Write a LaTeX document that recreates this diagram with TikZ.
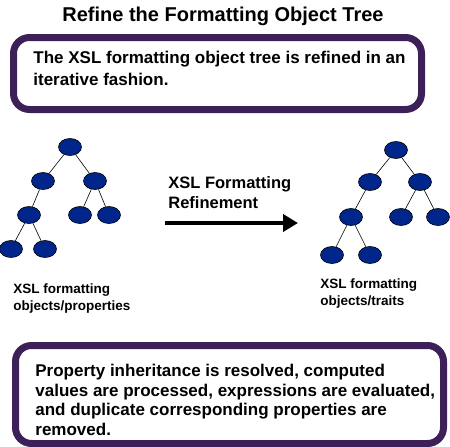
\documentclass[tikz,border=0pt]{standalone}
\usepackage{fontspec}
\setmainfont{Liberation Sans}
\usepackage{tikz}
\usetikzlibrary{arrows,arrows.meta,shapes}

\definecolor{boxpurple}{RGB}{62,32,88}
\definecolor{nodeblue}{RGB}{0,38,140}

\begin{document}
\begin{tikzpicture}[x=1pt,y=-1pt,thick]
  \tikzstyle{fo}=[ellipse,fill=nodeblue,draw=black,line width=0.6pt,minimum width=23pt,minimum height=17pt,inner sep=0pt]
  \tikzstyle{msgbox}=[draw=boxpurple,line width=7pt,rounded corners=16pt,fill=white]
  \tikzstyle{msgtext}=[anchor=base west,align=left,inner sep=0pt,font=\bfseries\fontsize{17}{22}\selectfont]
  \tikzstyle{caption}=[anchor=base west,align=left,inner sep=0pt,font=\bfseries\fontsize{13.5}{17}\selectfont]
  \tikzstyle{link}=[draw=black,line width=0.6pt]

  \useasboundingbox (0,0) rectangle (450,447);

  \node[font=\bfseries\fontsize{20}{22}\selectfont] at (223,16) (title) {Refine the Formatting Object Tree};

  \node[msgbox,minimum width=408pt,minimum height=72pt] at (217.5,73.5) (top) {};
  \node[msgtext] at (33,85) (toptext)
    {The XSL formatting object tree is refined in an\\iterative fashion.};

  % tree before refinement
  \node[fo] at ( 70,147) (A) {};
  \node[fo] at ( 43,181) (B) {};
  \node[fo] at ( 95,181) (C) {};
  \node[fo] at ( 29,215) (D) {};
  \node[fo] at ( 80,215) (E) {};
  \node[fo] at (109,215) (F) {};
  \node[fo] at ( 11,249) (G) {};
  \node[fo] at ( 45,249) (H) {};

  \path[link] (A) -- (B)
              (A) -- (C)
              (B) -- (D)
              (C) -- (E)
              (C) -- (F)
              (D) -- (G)
              (D) -- (H);

  \node[caption] at (13,310) (before) {XSL formatting\\objects/properties};

  % tree after refinement
  \node[fo] at (396,150) (K) {};
  \node[fo] at (370,182) (L) {};
  \node[fo] at (420,182) (M) {};
  \node[fo] at (351,217) (N) {};
  \node[fo] at (401,217) (O) {};
  \node[fo] at (438,217) (P) {};
  \node[fo] at (332,255) (Q) {};
  \node[fo] at (370,255) (R) {};

  \path[link] (K) -- (L)
              (K) -- (M)
              (L) -- (N)
              (M) -- (O)
              (M) -- (P)
              (N) -- (Q)
              (N) -- (R);

  \node[caption] at (320,305) (after) {XSL formatting\\objects/traits};

  % refinement arrow
  \coordinate (start) at (165,223);
  \coordinate (end) at (298,223);
  \draw[line width=4pt,-{Triangle[length=15pt,width=17pt]}] (start) -- (end);
  \node[caption,font=\bfseries\fontsize{16.5}{20}\selectfont] at (168,208) (step) {XSL Formatting\\Refinement};

  \node[msgbox,minimum width=428pt,minimum height=98pt] at (229.5,394.5) (bottom) {};
  \node[msgtext,font=\bfseries\fontsize{17}{19.5}\selectfont] at (35,435) (bottomtext)
    {Property inheritance is resolved, computed\\values are processed, expressions are evaluated,\\and duplicate corresponding properties are\\removed.};
\end{tikzpicture}
\end{document}
